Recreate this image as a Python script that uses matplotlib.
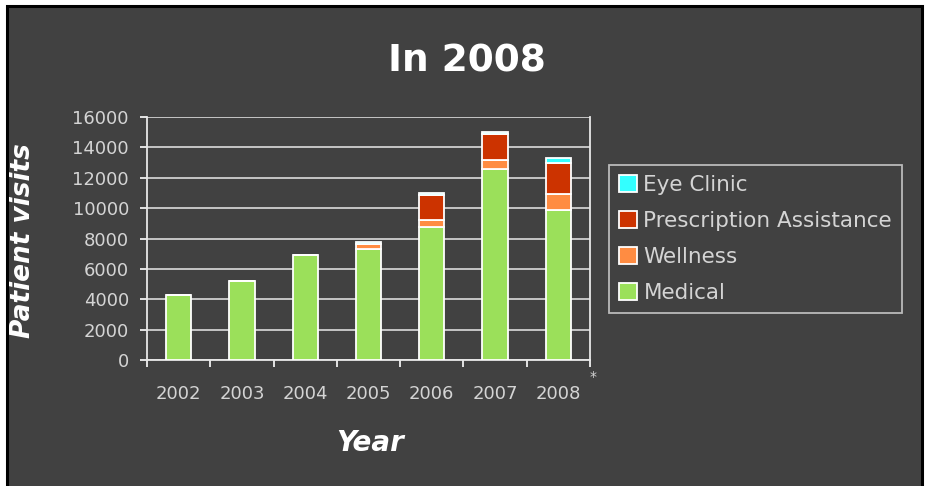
import matplotlib.pyplot as plt
from matplotlib.patches import Rectangle
import numpy as np

plt.rcParams['font.family'] = ['DejaVu Sans']

years = ["2002", "2003", "2004", "2005", "2006", "2007", "2008"]
medical = [4300, 5200, 6900, 7300, 8750, 12600, 9900]
wellness = [0, 0, 0, 330, 450, 550, 1000]
prescription = [0, 0, 0, 0, 1650, 1750, 2050]
eye_clinic = [0, 0, 0, 120, 120, 120, 350]

series = [("Medical", medical, "#9be05a"),
          ("Wellness", wellness, "#ff8c42"),
          ("Prescription Assistance", prescription, "#cc3300"),
          ("Eye Clinic", eye_clinic, "#33ffff")]

bg = "#414141"
txt = "#d4d4d4"

fig = plt.figure(figsize=(9.26, 4.86), dpi=100, facecolor="white")
fig.patches.append(Rectangle((7 / 926, -0.01), 915 / 926, 1 - 6 / 486 + 0.01,
                             transform=fig.transFigure, facecolor=bg,
                             edgecolor="black", lw=2.2, zorder=-5))

ax = fig.add_axes([147 / 926, 1 - 360 / 486, 443 / 926, 243 / 486])
ax.set_zorder(2)
ax.set_facecolor(bg)

x = np.arange(len(years))
bottom = np.zeros(len(years))
handles = {}
for name, vals, col in series:
    b = ax.bar(x, vals, 0.4, bottom=bottom, color=col, edgecolor="white",
               linewidth=1.3, zorder=3, label=name)
    handles[name] = b
    bottom += np.array(vals)

ax.set_xlim(-0.5, len(years) - 0.5)
ax.set_ylim(0, 16000)
ax.set_yticks(np.arange(0, 16001, 2000))
ax.yaxis.grid(True, color="#cfcfcf", linewidth=1.3, zorder=1)
ax.set_axisbelow(True)

# ticks at category boundaries, labels centred
ax.set_xticks(np.arange(-0.5, len(years)), labels=[""] * (len(years) + 1))
ax.set_xticks(x, labels=years, minor=True)
ax.tick_params(axis="x", which="major", direction="out", length=5, color="white", width=1.2)
ax.tick_params(axis="x", which="minor", length=0, pad=18, labelsize=13, labelcolor=txt)
ax.tick_params(axis="y", direction="out", length=5, color="white", width=1.2,
               pad=8, labelsize=13, labelcolor=txt)

for s in ["left", "bottom", "right"]:
    ax.spines[s].set_color("#e8e8e8")
    ax.spines[s].set_linewidth(1.3)
ax.spines["top"].set_visible(False)

ax.text(6.5, -1100, "*", color=txt, fontsize=10, ha="left", va="center",
        clip_on=False)

fig.text(467 / 926, 1 - 61 / 486, "In 2008", color="white", fontsize=27,
         fontweight="bold", ha="center", va="center")
fig.text(23 / 926, 1 - 241 / 486, "Patient visits", color="white", fontsize=19,
         fontweight="bold", style="italic", rotation=90, ha="center", va="center")
fig.text(370 / 926, 1 - 443 / 486, "Year", color="white", fontsize=20,
         fontweight="bold", style="italic", ha="center", va="center")

order = ["Eye Clinic", "Prescription Assistance", "Wellness", "Medical"]
leg = fig.legend([handles[n] for n in order], order,
                 loc="upper left", bbox_to_anchor=(609 / 926, 1 - 165 / 486),
                 frameon=True, fontsize=15.5, labelcolor=txt, facecolor=bg,
                 edgecolor="#d8d8d8", fancybox=False, handlelength=0.85,
                 handleheight=0.85, handletextpad=0.3, labelspacing=0.75,
                 borderpad=0.45, borderaxespad=0)
leg.get_frame().set_linewidth(1.3)

fig.savefig("out.png", dpi=100, facecolor="white")
